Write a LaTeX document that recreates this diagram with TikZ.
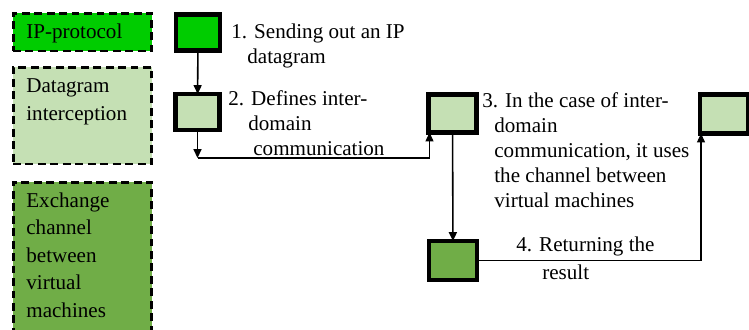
\documentclass[tikz,border=0pt]{standalone}
\usepackage{fontspec}
\setmainfont{Liberation Serif}
\usetikzlibrary{positioning,calc,arrows.meta}

\definecolor{ipgreen}{RGB}{0,204,0}
\definecolor{lightgreen}{RGB}{197,224,180}
\definecolor{darkgreen}{RGB}{112,173,71}

\begin{document}
\begin{tikzpicture}[x=0.02cm,y=-0.02cm,
  legend/.style={draw,line width=1.7pt,dash pattern=on 4.5pt off 2.6pt,inner sep=0pt,outer sep=0pt},
  stepbox/.style={draw,line width=2.4pt,inner sep=0pt,outer sep=0pt},
  txt/.style={align=left,inner sep=0pt,anchor=base west,font=\fontsize{12}{14.2}\selectfont},
  legtxt/.style={txt,font=\fontsize{12}{15.6}\selectfont},
  arr/.style={line width=0.9pt,-{Triangle[width=4.5pt,length=5pt]}},
  link/.style={line width=0.6pt}]

\useasboundingbox (0,0) rectangle (749,329);

% legend (text nodes sit on the baseline of their last line)
\node[legend,fill=ipgreen,minimum width=2.78cm,minimum height=0.76cm] (IPbox) at (82.5,32) {};
\node[legend,fill=lightgreen,minimum width=2.78cm,minimum height=1.94cm] (DIbox) at (82.5,115.5) {};
\node[legend,fill=darkgreen,minimum width=2.78cm,minimum height=3.0cm] (EXbox) at (82.5,257) {};

\node[legtxt] (IPtxt) at (26,38) {IP-protocol};
\node[legtxt] (DItxt) at (26,120) {Datagram\\interception};
\node[legtxt] (EXtxt) at (26,317) {Exchange\\channel\\between\\virtual\\machines};

% steps
\node[stepbox,fill=ipgreen,minimum width=0.88cm,minimum height=0.72cm] (B1) at (198,32.5) {};
\node[stepbox,fill=lightgreen,minimum width=0.88cm,minimum height=0.72cm] (B2) at (197.5,112) {};
\node[stepbox,fill=lightgreen,minimum width=0.96cm,minimum height=0.76cm] (B3) at (452.5,113.5) {};
\node[stepbox,fill=lightgreen,minimum width=0.96cm,minimum height=0.78cm] (B4) at (724,114) {};
\node[stepbox,fill=darkgreen,minimum width=0.96cm,minimum height=0.78cm] (B5) at (453,260.5) {};

\node[txt] (T1) at (231,63) {1. Sending out an IP\\\hspace*{0.32cm}datagram};
\node[txt] (T2) at (228,155) {2. Defines inter-\\\hspace*{0.4cm}domain\\\hspace*{0.5cm}communication};
\node[txt] (T3) at (482,207) {3. In the case of inter-\\\hspace*{0.24cm}domain\\\hspace*{0.24cm}communication, it uses\\\hspace*{0.24cm}the channel between\\\hspace*{0.24cm}virtual machines};
\node[txt,font=\fontsize{12}{15.4}\selectfont] (T4) at (516,279) {4. Returning the\\\hspace*{0.52cm}result};

% connectors
\coordinate (C2) at ($(B2.south)+(0,28)$);
\coordinate (C3) at ($(B3.south west)+(1,0)$);
\coordinate (C4) at ($(B4.south west)+(1,0)$);

\draw[arr] (B1) -- (B2);
\draw[arr] (B2) -- (C2);
\draw[link,-{Triangle[width=4.5pt,length=5pt]}] (C2) -- (C2 -| C3) -- (C3);
\draw[arr] (B3) -- (B5);
\draw[link,-{Triangle[width=4.5pt,length=5pt]}] (B5.east) -- (B5.east -| C4) -- (C4);

\end{tikzpicture}
\end{document}
